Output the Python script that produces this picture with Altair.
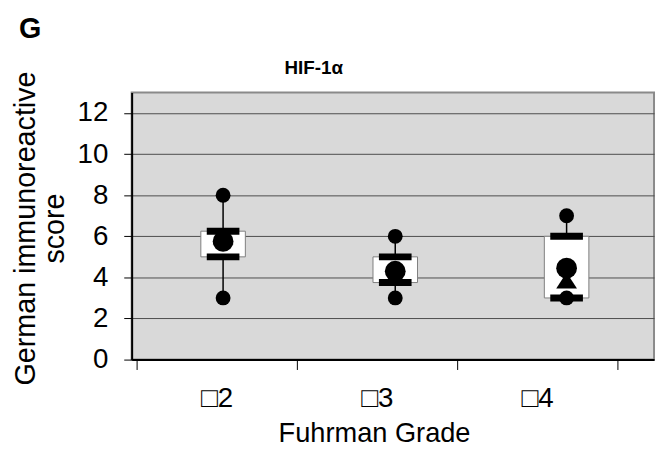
import altair as alt
import pandas as pd

# ---- data ----
grades = ["□2", "□3", "□4"]
max_score = [8, 6, 7]
q3_score = [6.25, 5.0, 6.0]
mean_score = [5.75, 4.3, 4.45]
median_score = [6.0, 4.0, 3.85]
q1_score = [5.0, 3.75, 3.0]
min_score = [3, 3, 3]
y_ticks = [0, 2, 4, 6, 8, 10, 12]

# ---- layout (x slot positions of each box on the category axis) ----
box_center = [0.54, 1.615, 2.685]
label_pos = [0.5, 1.5, 2.5]

df = pd.DataFrame({
    "grade": grades,
    "pos": box_center,
    "max": max_score,
    "q3": q3_score,
    "mean": mean_score,
    "median": median_score,
    "q1": q1_score,
    "min": min_score,
})

FONT = "Liberation Sans"

label_expr = " : ".join(
    f"datum.value == {p} ? '{g}'" for p, g in zip(label_pos, grades)
) + " : ''"

x_axis = alt.Axis(
    values=[0, 0.5, 1, 1.5, 2, 2.5, 3],
    labelExpr=label_expr,
    labelOverlap=False,
    labelFlush=False,
    labelBound=False,
    grid=False,
    tickSize=10,
    tickColor="black",
    tickWidth=1,
    tickOpacity={"condition": {"test": "datum.value % 1 === 0", "value": 1}, "value": 0},
    labelFont=FONT,
    labelFontSize=28,
    labelColor="black",
    labelPadding=15,
    domainColor="black",
    domainWidth=2,
    title="Fuhrman Grade",
    titleFont=FONT,
    titleFontSize=27.5,
    titleFontWeight="normal",
    titleColor="black",
    titleX=245,
    titleY=83,
    titleAlign="center",
    titleBaseline="alphabetic",
)

y_axis = alt.Axis(
    values=y_ticks,
    grid=True,
    gridColor="#4d4d4d",
    gridWidth=1,
    tickSize=8,
    tickColor="black",
    tickWidth=1,
    labelFont=FONT,
    labelFontSize=28,
    labelColor="black",
    labelPadding=16,
    domainColor="black",
    domainWidth=2,
    title=["German immunoreactive", "score"],
    titleFont=FONT,
    titleFontSize=29,
    titleFontWeight="normal",
    titleColor="black",
    titleAngle=270,
    titleX=-98,
    titleY=137,
    titleAlign="center",
    titleBaseline="alphabetic",
    titleLineHeight=29,
)

x_enc = alt.X("pos:Q", scale=alt.Scale(domain=[0, 3.2], nice=False, zero=False), axis=x_axis)
y_scale = alt.Scale(domain=[0, 13], nice=False)

base = alt.Chart(df)

whisker = base.mark_rule(color="black", strokeWidth=1.5).encode(
    x=x_enc,
    y=alt.Y("min:Q", scale=y_scale, axis=y_axis),
    y2="max:Q",
)

box = base.mark_bar(size=45, fill="white", stroke="#808080", strokeWidth=1).encode(
    x="pos:Q",
    y=alt.Y("q1:Q", scale=y_scale),
    y2="q3:Q",
)

bar_q3 = base.mark_tick(orient="horizontal", size=33, thickness=7, color="black", opacity=1).encode(
    x="pos:Q", y=alt.Y("q3:Q", scale=y_scale)
)
bar_q1 = base.mark_tick(orient="horizontal", size=33, thickness=7, color="black", opacity=1).encode(
    x="pos:Q", y=alt.Y("q1:Q", scale=y_scale)
)

median_pt = base.mark_point(
    shape="M0,-0.76L1,0.76L-1,0.76Z", filled=True, size=441, color="black", opacity=1
).encode(x="pos:Q", y=alt.Y("median:Q", scale=y_scale))

mean_pt = base.mark_point(shape="circle", filled=True, size=441, color="black", opacity=1).encode(
    x="pos:Q", y=alt.Y("mean:Q", scale=y_scale)
)
max_pt = base.mark_point(shape="circle", filled=True, size=225, color="black", opacity=1).encode(
    x="pos:Q", y=alt.Y("max:Q", scale=y_scale)
)
min_pt = base.mark_point(shape="circle", filled=True, size=225, color="black", opacity=1).encode(
    x="pos:Q", y=alt.Y("min:Q", scale=y_scale)
)

panel = alt.Chart(pd.DataFrame({"label": ["G"]})).mark_text(
    font=FONT, fontSize=29, fontWeight="bold", color="black", align="left", baseline="alphabetic"
).encode(text="label:N", x=alt.value(-114), y=alt.value(-55))

heading = alt.Chart(pd.DataFrame({"label": ["HIF-1α"]})).mark_text(
    font=FONT, fontSize=19, fontWeight="bold", color="black", align="center", baseline="alphabetic"
).encode(text="label:N", x=alt.value(184), y=alt.value(-19))

chart = alt.layer(
    whisker, box, bar_q3, bar_q1, median_pt, mean_pt, max_pt, min_pt, panel, heading
).properties(
    width=528,
    height=270,
    autosize=alt.AutoSizeParams(type="none"),
    padding={"left": 125, "top": 83, "right": 2, "bottom": 90},
).configure_view(
    fill="#d9d9d9", stroke="#8a8a8a", strokeWidth=2
)

chart.save("out.html", embed_options={"renderer": "svg", "actions": False})
